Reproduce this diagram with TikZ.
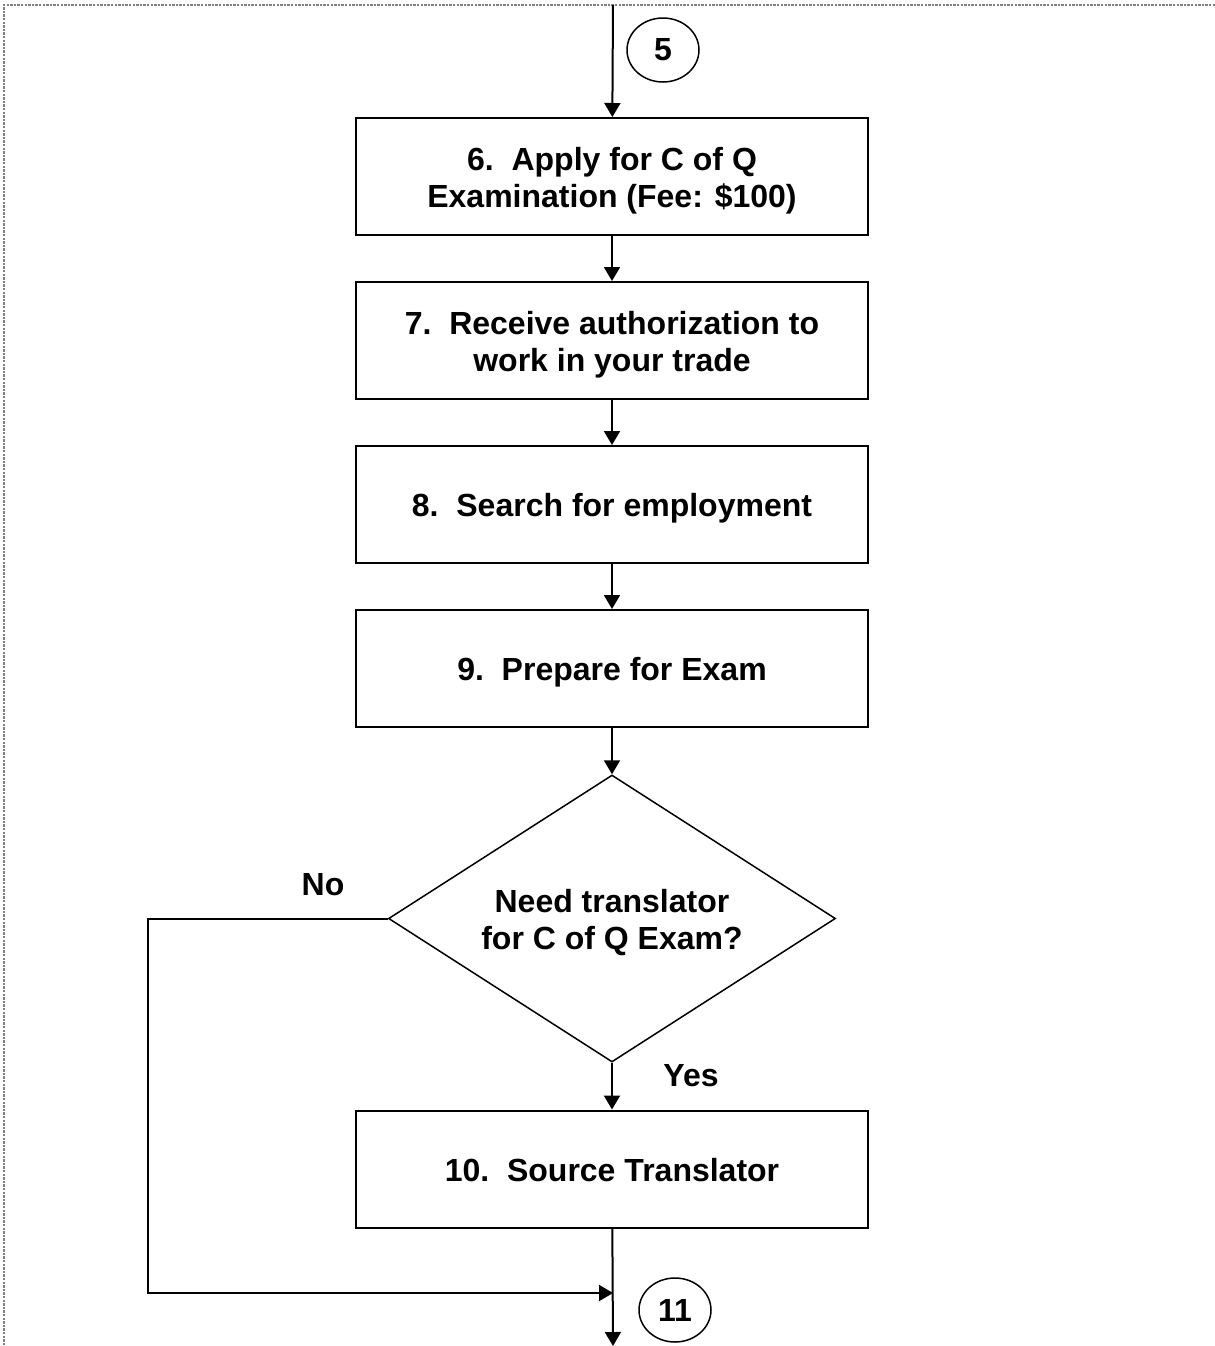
\documentclass[tikz,border=0pt]{standalone}
\usepackage{fontspec}
\setmainfont{Liberation Sans}
\usetikzlibrary{arrows.meta, shapes.geometric}

% fixed line box, so every line sits the same in its box
\newcommand{\linestrut}{\rule[-3.5pt]{0pt}{19pt}}

\begin{document}
\begin{tikzpicture}[x=0.5pt, y=-0.5pt,
  every node/.style={font={\fontsize{16}{18.5}\selectfont\bfseries\lineskiplimit=-100pt\relax}},
  stepbox/.style={draw, line width=1pt, rectangle, minimum width=256pt, minimum height=58.5pt, align=center, inner sep=0pt},
  askbox/.style={draw, line width=0.75pt, diamond, aspect=1.56, minimum width=223.5pt, minimum height=143.5pt, align=center, inner sep=0pt},
  pageref/.style={draw, line width=0.75pt, ellipse, minimum width=36pt, minimum height=32pt, inner sep=0pt},
  arr/.style={line width=1pt, -{Triangle[length=7pt, width=8pt]}}]
  \useasboundingbox (0,0) rectangle (1215,1346);

  % Page frame
  \draw[gray, line width=1pt, dash pattern=on 1.2pt off 0.6pt] (1215,5) -- (4,5) -- (4,1346);

  % Steps
  \node[stepbox] (apply) at (612,176.5) {\linestrut 6.\ \ Apply for C of Q\\\linestrut Examination (Fee: \$100)};
  \node[stepbox] (auth) at (612,340.5) {\linestrut 7.\ \ Receive authorization to\\\linestrut work in your trade};
  \node[stepbox] (search) at (612,504.5) {\linestrut 8.\ \ Search for employment};
  \node[stepbox] (prep) at (612,668.5) {\linestrut 9.\ \ Prepare for Exam};
  \node[askbox] (need) at (612,918.5) {\linestrut Need translator\\\linestrut for C of Q Exam?};
  \node[stepbox] (source) at (612,1169) {\linestrut 10.\ \ Source Translator};

  % Page references
  \node[pageref] (c5) at (663,50) {5};
  \node[pageref] (c11) at (675,1310) {11};

  % Answers
  \node (no) at (323,885) {No};
  \node (yes) at (691,1076) {Yes};

  % Connectors
  \coordinate (top) at (613,5);
  \coordinate (bottom) at (613,1346);
  \coordinate (noTop) at (148,918.5);
  \coordinate (noLow) at (148,1293);
  \coordinate (join) at (613,1293);
  \draw[arr] (top) -- (apply);
  \draw[arr] (apply) -- (auth);
  \draw[arr] (auth) -- (search);
  \draw[arr] (search) -- (prep);
  \draw[arr] (prep) -- (need);
  \draw[arr] (need) -- (source);
  \draw[arr] (source) -- (bottom);
  \draw[arr] (need.west) -- (noTop) -- (noLow) -- (join);
\end{tikzpicture}
\end{document}
